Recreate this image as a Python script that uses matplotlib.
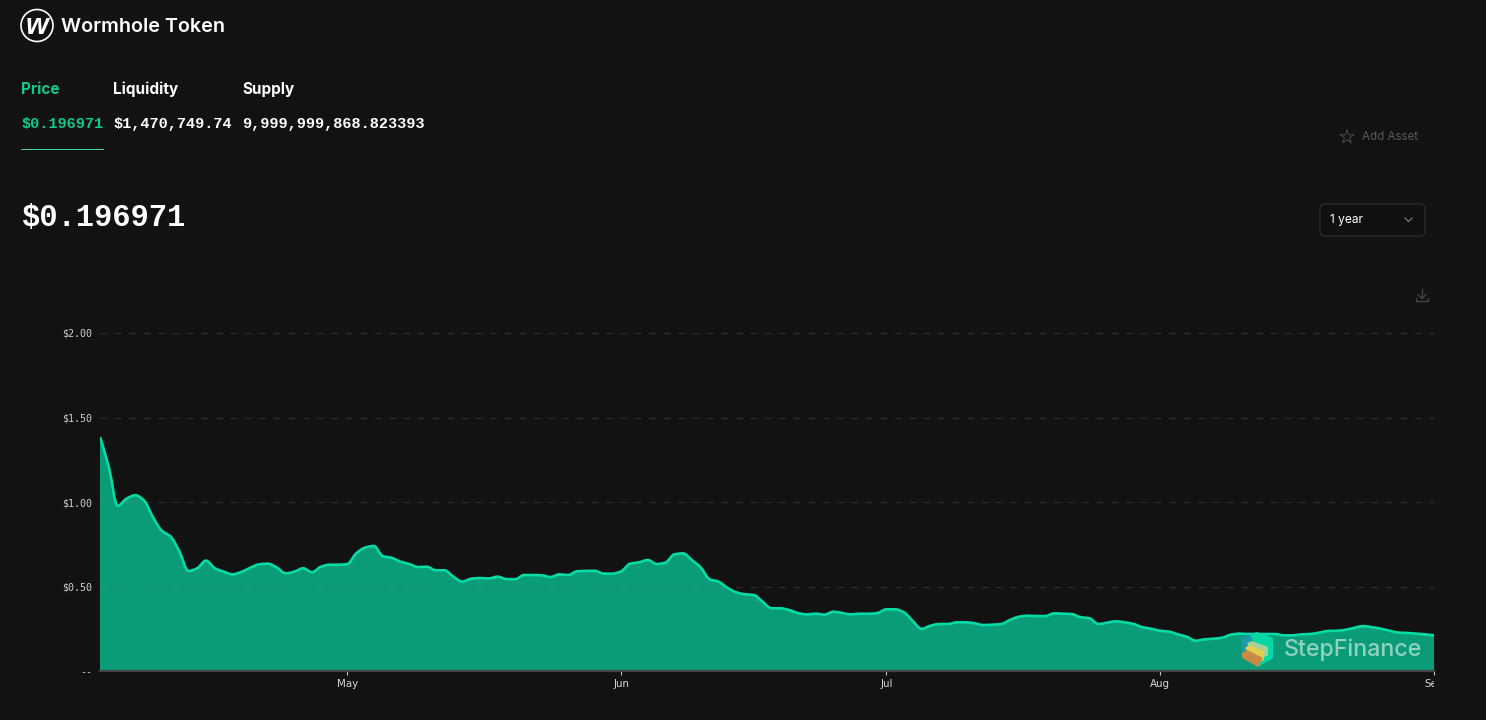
import matplotlib
matplotlib.use("Agg")
import matplotlib.dates as mdates
import matplotlib.pyplot as plt
import pandas as pd
from matplotlib.patches import Circle, FancyBboxPatch, PathPatch, Polygon
from matplotlib.path import Path
from matplotlib.transforms import Bbox

BG = "#121212"
GREEN = "#10c98f"
LINE = "#05dba5"
FILL = "#0a9c78"

start_date = "2024-04-03"
prices = [
    1.385, 1.207, 0.976, 1.02, 1.04, 1.008, 0.91, 0.83, 0.795, 0.706,
    0.592, 0.608, 0.653, 0.608, 0.588, 0.572, 0.586, 0.611, 0.631, 0.635,
    0.613, 0.578, 0.588, 0.608, 0.584, 0.617, 0.629, 0.629, 0.633, 0.696,
    0.73, 0.74, 0.68, 0.67, 0.647, 0.633, 0.615, 0.617, 0.596, 0.596,
    0.558, 0.529, 0.546, 0.55, 0.548, 0.558, 0.544, 0.543, 0.568, 0.568,
    0.566, 0.556, 0.572, 0.568, 0.59, 0.592, 0.593, 0.576, 0.576, 0.59,
    0.635, 0.643, 0.657, 0.633, 0.641, 0.69, 0.696, 0.657, 0.613, 0.543,
    0.529, 0.493, 0.466, 0.454, 0.45, 0.41, 0.371, 0.371, 0.361, 0.343,
    0.335, 0.339, 0.333, 0.351, 0.343, 0.335, 0.339, 0.339, 0.343, 0.365,
    0.365, 0.347, 0.296, 0.249, 0.268, 0.278, 0.278, 0.288, 0.288, 0.282,
    0.272, 0.274, 0.278, 0.302, 0.321, 0.327, 0.325, 0.325, 0.341, 0.339,
    0.337, 0.318, 0.312, 0.278, 0.286, 0.294, 0.288, 0.278, 0.259, 0.25,
    0.238, 0.233, 0.217, 0.203, 0.179, 0.187, 0.191, 0.197, 0.215, 0.221,
    0.219, 0.219, 0.219, 0.219, 0.211, 0.211, 0.217, 0.219, 0.227, 0.237,
    0.238, 0.244, 0.256, 0.266, 0.259, 0.25, 0.238, 0.227, 0.225, 0.221,
    0.217, 0.211,
]
y_ticks = [0, 0.5, 1.0, 1.5, 2.0]
y_labels = ["--", "$0.50", "$1.00", "$1.50", "$2.00"]
month_ticks = ["2024-05-01", "2024-06-01", "2024-07-01", "2024-08-01", "2024-09-01"]
month_labels = ["May", "Jun", "Jul", "Aug", "Sep"]
tabs = ["Price", "Liquidity", "Supply"]
tab_values = ["$0.196971", "$1,470,749.74", "9,999,999,868.823393"]
tab_x = [21, 113, 242]

dates = pd.date_range(start_date, periods=len(prices), freq="D")
xs = mdates.date2num(dates)


def smooth_path(x, y):
    # monotone bezier through the points, so no overshoot at the turns
    n = len(x)
    slopes = [0.0] * n
    slopes[0] = y[1] - y[0]
    slopes[-1] = y[-1] - y[-2]
    for i in range(1, n - 1):
        a, b = y[i] - y[i - 1], y[i + 1] - y[i]
        if a * b > 0:
            slopes[i] = 2 * a * b / (a + b)
    verts = [(x[0], y[0])]
    codes = [Path.MOVETO]
    for i in range(n - 1):
        h = (x[i + 1] - x[i]) / 3
        verts += [(x[i] + h, y[i] + slopes[i] / 3), (x[i + 1] - h, y[i + 1] - slopes[i + 1] / 3), (x[i + 1], y[i + 1])]
        codes += [Path.CURVE4] * 3
    return verts, codes


fig = plt.figure(figsize=(14.86, 7.2), dpi=100, facecolor=BG)

# chart area, pixel box 100..1434 / 333..671
ax = fig.add_axes([100 / 1486, (720 - 671) / 720, 1334 / 1486, 338 / 720], facecolor=BG)
verts, codes = smooth_path(xs, prices)
fill_verts = verts + [(xs[-1], 0), (xs[0], 0), (xs[0], prices[0])]
fill_codes = codes + [Path.LINETO, Path.LINETO, Path.CLOSEPOLY]
ax.add_patch(PathPatch(Path(fill_verts, fill_codes), fc=FILL, lw=0, zorder=2))
ax.add_patch(PathPatch(Path(verts, codes), fc="none", ec=LINE, lw=1.9, zorder=3, capstyle="butt"))
for t in y_ticks[1:]:
    ax.axhline(t, color="#8a8a8a", alpha=0.25, lw=0.8, dashes=(6, 7), zorder=4, clip_on=False)
ax.set_xlim(xs[0], xs[-1])
ax.set_ylim(0, 2)
ax.set_yticks(y_ticks, y_labels, family="DejaVu Sans Mono", fontsize=7.2, color="#d0d0d0")
ax.set_xticks(mdates.date2num(pd.to_datetime(month_ticks)), month_labels, family="DejaVu Sans", fontsize=7.4,
              color="#d8d8d8")
ax.tick_params(axis="y", length=0, pad=5.5)
ax.tick_params(axis="x", length=3, width=0.8, color="#c8c8c8", pad=2.5)
for s in ["top", "right", "left"]:
    ax.spines[s].set_visible(False)
ax.spines["bottom"].set_color("#444444")
ax.spines["bottom"].set_linewidth(1.6)
# the last month label is cut off at the chart edge
for lab in ax.get_xticklabels():
    lab.set_clip_box(Bbox([[0, 0], [1434, 720]]))
    lab.set_clip_on(True)
for lab in ax.get_yticklabels():
    lab.set_y(lab.get_position()[1])

# page chrome in pixel coordinates
ui = fig.add_axes([0, 0, 1, 1], facecolor="none")
ui.set_xlim(0, 1486)
ui.set_ylim(720, 0)
ui.axis("off")

ui.add_patch(Circle((37, 25.5), 16, fc="none", ec="white", lw=1.2))
ui.text(37, 25.5, "w", color="white", fontsize=21, family="Liberation Sans", weight="bold",
        style="italic", ha="center", va="center")
ui.text(61, 27, "Wormhole Token", color="white", fontsize=14.2, family="Inter", weight="semibold", va="center")

for i in range(3):
    col = GREEN if i == 0 else "white"
    ui.text(tab_x[i], 89.5, tabs[i], color=col, fontsize=11, family="Inter", weight="bold", va="center")
    ui.text(tab_x[i], 124, tab_values[i], color=col, fontsize=11, family="Liberation Mono", weight="bold", va="center")
ui.plot([21, 103], [149, 149], color="#3fd6a8", lw=0.7)

ui.text(22, 218, "$0.196971", color="white", fontsize=22, family="Liberation Mono", weight="bold", va="center")

ui.scatter([1347], [137], marker="*", s=110, facecolors="none", edgecolors="#444444", linewidths=0.8)
ui.text(1362, 137.5, "Add Asset", color="#5a5a5a", fontsize=8.3, family="Inter", va="center")

ui.add_patch(FancyBboxPatch((1323, 207), 99, 26, boxstyle="round,pad=3,rounding_size=5",
                            fc="#101010", ec="#2c2c2c", lw=0.9))
ui.text(1330, 220, "1 year", color="white", fontsize=8.6, family="Inter", va="center")
ui.plot([1405, 1408.5, 1412], [218, 221.5, 218], color="#777777", lw=0.9)

# download icon
ui.plot([1422, 1422], [289, 298], color="#444444", lw=1)
ui.plot([1418, 1422, 1426], [294.5, 298.5, 294.5], color="#444444", lw=1)
ui.plot([1416, 1416, 1428, 1428], [298, 301, 301, 298], color="#444444", lw=1)

# StepFinance watermark
ui.add_patch(Polygon([(1242, 638), (1257, 632), (1257, 660), (1242, 658)], fc="#1b9aa8", lw=0))
ui.add_patch(Polygon([(1250, 635), (1257, 632), (1273, 638), (1273, 658), (1258, 667), (1258, 650)], fc="#05d8a4", lw=0))
ui.add_patch(Polygon([(1247, 643), (1252, 641), (1268, 647), (1268, 655), (1258, 660)], fc="#a8d09a", lw=0))
ui.add_patch(Polygon([(1245, 648), (1249, 645), (1264, 651), (1264, 660), (1258, 663)], fc="#e3cf4e", lw=0))
ui.add_patch(Polygon([(1242, 653), (1247, 650), (1263, 658), (1258, 667), (1242, 658)], fc="#c98a45", lw=0))
ui.text(1284, 649.5, "StepFinance", color="white", alpha=0.55, fontsize=16.7, family="Inter", weight="medium", va="center")

fig.savefig("out.png", dpi=100, facecolor=BG)
